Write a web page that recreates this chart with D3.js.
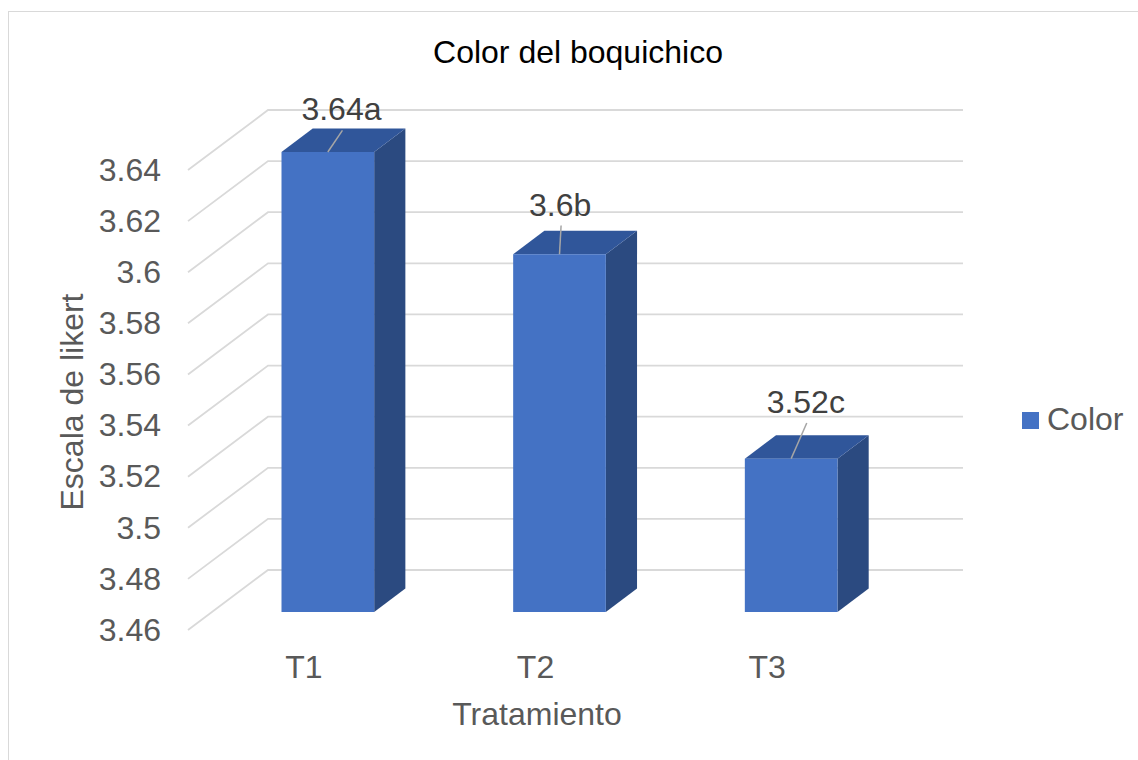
<!DOCTYPE html>
<html>
<head>
<meta charset="utf-8">
<script src="https://cdn.jsdelivr.net/npm/d3@7"></script>
<style>
  body { margin: 0; background: #fff; }
  svg { font-family: "Liberation Sans", Arial, sans-serif; }
</style>
</head>
<body>
<div id="holder"></div>
<script>
// chart data
var categories = ['T1', 'T2', 'T3'];
var values = [3.64, 3.6, 3.52];
var valueLabels = ['3.64a', '3.6b', '3.52c'];
var yTicks = [3.46, 3.48, 3.5, 3.52, 3.54, 3.56, 3.58, 3.6, 3.62, 3.64];
var seriesName = 'Color';

// label nudges (layout only), relative to the middle of each bar's top
var labelNudge = [[-2, -20], [-15, -27], [-1, -34]];

var W = 1138, H = 760;
var fs = 32;
var svg = d3.select('#holder').append('svg').attr('width', W).attr('height', H);

// outer chart border
svg.append('rect').attr('x', 8.5).attr('y', 11.5).attr('width', W).attr('height', H)
  .attr('fill', 'none').attr('stroke', '#d9d9d9').attr('stroke-width', 1);

// 3d depth of the plot box
var depthX = 80, depthY = -60;
var x = d3.scaleBand().domain(categories).range([188, 883]);
var y = d3.scaleLinear().domain([3.46, 3.64]).range([630, 170]);

// gridlines: side wall diagonal + back wall line
var grid = svg.append('g').attr('stroke', '#d9d9d9').attr('stroke-width', 1.8).attr('fill', 'none');
yTicks.forEach(function(t) {
  var yf = y(t);
  grid.append('path')
    .attr('d', 'M188,' + yf + 'L' + (188 + depthX) + ',' + (yf + depthY) + 'L' + (883 + depthX) + ',' + (yf + depthY));
});

// bars
var barW = x.bandwidth() * 0.4;
var f0 = 0.3, fd = 0.39;
var offX = f0 * depthX, offY = f0 * depthY;
var bdX = fd * depthX, bdY = fd * depthY;
var base = y(3.46);

var bars = svg.append('g');
categories.forEach(function(c, i) {
  var x0 = x(c) + x.bandwidth() / 2 - barW / 2 + offX;
  var x1 = x0 + barW;
  var yt = y(values[i]) + offY;
  var yb = base + offY;
  // side
  bars.append('path')
    .attr('d', 'M' + x1 + ',' + yt + 'L' + (x1 + bdX) + ',' + (yt + bdY) + 'L' + (x1 + bdX) + ',' + (yb + bdY) + 'L' + x1 + ',' + yb + 'Z')
    .attr('fill', '#2b4a80');
  // top
  bars.append('path')
    .attr('d', 'M' + x0 + ',' + yt + 'L' + (x0 + bdX) + ',' + (yt + bdY) + 'L' + (x1 + bdX) + ',' + (yt + bdY) + 'L' + x1 + ',' + yt + 'Z')
    .attr('fill', '#30569a');
  // front
  bars.append('rect')
    .attr('x', x0).attr('y', yt).attr('width', barW).attr('height', yb - yt)
    .attr('fill', '#4472c4');

  // data label with leader line
  var cx = (x0 + x1) / 2;
  var lx = cx + bdX / 2 + labelNudge[i][0];
  var ly = yt + bdY / 2 + labelNudge[i][1];
  bars.append('line')
    .attr('x1', cx).attr('y1', yt).attr('x2', lx + 1).attr('y2', ly + 10)
    .attr('stroke', '#a6a6a6').attr('stroke-width', 1.5);
  bars.append('text')
    .attr('x', lx).attr('y', ly)
    .attr('text-anchor', 'middle')
    .attr('font-size', fs).attr('fill', '#404040')
    .text(valueLabels[i]);
});

// y axis labels
var yAxis = d3.axisLeft(y).tickValues(yTicks).tickSize(0).tickPadding(0)
  .tickFormat(function(d) { return String(+d.toFixed(2)); });
var ya = svg.append('g').attr('transform', 'translate(161,0)').call(yAxis);
ya.select('.domain').remove();
ya.selectAll('text').attr('font-size', fs).attr('fill', '#595959')
  .attr('font-family', '"Liberation Sans", Arial, sans-serif');

// x axis labels
var xAxis = d3.axisBottom(x).tickSize(0).tickPadding(0);
var xa = svg.append('g').attr('transform', 'translate(0,655)').call(xAxis);
xa.select('.domain').remove();
xa.selectAll('text').attr('font-size', fs).attr('fill', '#595959')
  .attr('font-family', '"Liberation Sans", Arial, sans-serif');

// titles
svg.append('text').attr('x', 578).attr('y', 63).attr('text-anchor', 'middle')
  .attr('font-size', fs).attr('fill', '#000').text('Color del boquichico');
svg.append('text').attr('x', 537).attr('y', 725).attr('text-anchor', 'middle')
  .attr('font-size', fs).attr('fill', '#595959').text('Tratamiento');
svg.append('text').attr('transform', 'translate(83,402) rotate(-90)').attr('text-anchor', 'middle')
  .attr('font-size', fs).attr('fill', '#595959').text('Escala de likert');

// legend
svg.append('rect').attr('x', 1022).attr('y', 412).attr('width', 17).attr('height', 17).attr('fill', '#4472c4');
svg.append('text').attr('x', 1047).attr('y', 430).attr('font-size', fs).attr('fill', '#595959').text(seriesName);
</script>
</body>
</html>
